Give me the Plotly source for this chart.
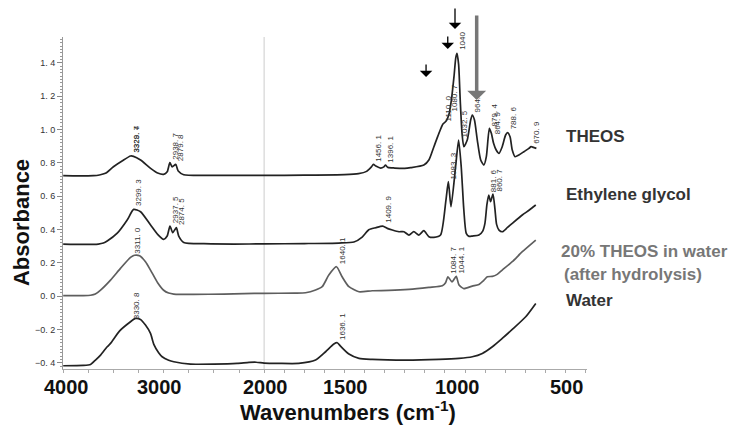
import numpy as np
import plotly.graph_objects as go

# ---------------- data (wavenumber cm-1, absorbance) ----------------
theos_wn = [4000, 3850, 3700, 3640, 3580, 3500, 3410, 3330, 3300, 3230, 3130, 3060, 3000, 2965,
            2938, 2915, 2880, 2855, 2800, 2600, 2300, 2000, 1800, 1600, 1530, 1490, 1466, 1456,
            1444, 1420, 1404, 1396, 1384, 1350, 1300, 1271, 1205, 1180, 1155, 1130, 1110, 1095,
            1081, 1068, 1055, 1046, 1040, 1032, 1024, 1015, 1006, 989, 972, 964, 953, 939, 922,
            906, 894, 879, 869, 858, 845, 831, 815, 798, 788, 776, 765, 751, 732, 707, 682, 671,
            660, 645]
theos_ab = [0.722, 0.721, 0.722, 0.726, 0.736, 0.776, 0.812, 0.840, 0.838, 0.816, 0.766, 0.738,
            0.730, 0.745, 0.800, 0.775, 0.790, 0.750, 0.728, 0.724, 0.724, 0.724, 0.725, 0.728,
            0.734, 0.748, 0.775, 0.790, 0.780, 0.768, 0.775, 0.785, 0.772, 0.768, 0.766, 0.770,
            0.786, 0.816, 0.896, 0.976, 1.032, 1.048, 1.086, 1.176, 1.316, 1.430, 1.456, 1.390,
            1.176, 0.976, 0.896, 0.936, 1.056, 1.086, 1.056, 0.936, 0.816, 0.786, 0.836, 1.006,
            0.976, 0.916, 0.876, 0.856, 0.896, 0.966, 0.980, 0.956, 0.876, 0.836, 0.846, 0.866,
            0.886, 0.896, 0.892, 0.886]

eg_wn = [4000, 3800, 3650, 3600, 3562, 3462, 3363, 3299, 3230, 3130, 3060, 3000, 2965, 2937,
         2910, 2874, 2850, 2800, 2600, 2300, 2000, 1800, 1628, 1553, 1512, 1479, 1445, 1410,
         1387, 1362, 1329, 1304, 1279, 1255, 1230, 1205, 1180, 1155, 1122, 1095, 1083, 1070,
         1047, 1032, 1019, 1006, 994, 980, 964, 931, 912, 901, 891, 882, 873, 861, 851, 843,
         831, 814, 790, 765, 715, 680, 648]
eg_ab = [0.312, 0.310, 0.312, 0.318, 0.330, 0.377, 0.456, 0.520, 0.506, 0.426, 0.370, 0.340,
         0.360, 0.420, 0.380, 0.410, 0.360, 0.322, 0.314, 0.312, 0.313, 0.315, 0.318, 0.324,
         0.354, 0.398, 0.410, 0.420, 0.406, 0.396, 0.386, 0.386, 0.366, 0.386, 0.366, 0.392,
         0.356, 0.352, 0.366, 0.576, 0.686, 0.536, 0.776, 0.936, 0.776, 0.516, 0.376, 0.358,
         0.360, 0.366, 0.390, 0.436, 0.550, 0.606, 0.566, 0.612, 0.520, 0.430, 0.396, 0.386,
         0.410, 0.436, 0.486, 0.516, 0.546]

hyd_wn = [4000, 3800, 3727, 3680, 3628, 3529, 3430, 3330, 3290, 3240, 3181, 3131, 3060, 3000,
          2950, 2900, 2700, 2400, 2200, 2000, 1850, 1794, 1744, 1711, 1678, 1640, 1612, 1578,
          1528, 1462, 1379, 1279, 1180, 1113, 1097, 1085, 1065, 1044, 1030, 1006, 964, 931,
          906, 889, 864, 840, 815, 765, 715, 648]
hyd_ab = [0.003, 0.003, 0.005, 0.012, 0.036, 0.096, 0.166, 0.232, 0.245, 0.242, 0.206, 0.156,
          0.080, 0.035, 0.018, 0.012, 0.010, 0.012, 0.015, 0.016, 0.018, 0.020, 0.036, 0.056,
          0.126, 0.176, 0.116, 0.056, 0.026, 0.032, 0.034, 0.040, 0.052, 0.062, 0.080, 0.116,
          0.085, 0.118, 0.066, 0.045, 0.060, 0.070, 0.095, 0.116, 0.118, 0.130, 0.156, 0.206,
          0.266, 0.336]

water_wn = [4000, 3800, 3728, 3679, 3628, 3562, 3529, 3440, 3330, 3280, 3231, 3181, 3131, 3098,
            3050, 3015, 2950, 2899, 2733, 2500, 2269, 2150, 2080, 2000, 1927, 1828, 1744, 1694,
            1653, 1636, 1620, 1578, 1528, 1462, 1296, 1130, 1030, 964, 914, 864, 815, 765, 698,
            648]
water_ab = [-0.418, -0.416, -0.410, -0.384, -0.354, -0.304, -0.284, -0.210, -0.154, -0.134,
            -0.140, -0.174, -0.224, -0.290, -0.340, -0.364, -0.385, -0.394, -0.408, -0.408,
            -0.404, -0.398, -0.397, -0.402, -0.404, -0.404, -0.384, -0.334, -0.288, -0.280,
            -0.300, -0.348, -0.374, -0.380, -0.384, -0.380, -0.374, -0.364, -0.344, -0.304,
            -0.254, -0.200, -0.124, -0.044]

series_names = ["THEOS", "Ethylene glycol", "20% THEOS in water (after hydrolysis)", "Water"]

peak_labels = {
    "THEOS": ["3328. 7", "3329. 4", "2938. 7", "2879. 8", "1456. 1", "1396. 1", "1110. 0",
              "1080. 7", "1040", "964. 5", "879. 4", "864. 9", "788. 6", "670. 9"],
    "Ethylene glycol": ["3299. 3", "2937. 5", "2874. 5", "1409. 9", "1083. 3", "1032. 5",
                        "881. 6", "860. 7"],
    "20% THEOS in water (after hydrolysis)": ["3311. 0", "1640. 1", "1084. 7", "1044. 1"],
    "Water": ["3330. 8", "1636. 1"],
}

y_ticks = [-0.4, -0.2, 0.0, 0.2, 0.4, 0.6, 0.8, 1.0, 1.2, 1.4]
y_ticktext = ["\u22120. 4", "\u22120. 2", "0. 0", "0. 2", "0. 4", "0. 6", "0. 8", "1. 0", "1. 2", "1. 4"]
x_labels = ["4000", "3000", "2000", "1500", "1000", "500"]


# ---------------- axis transform (scale doubles below 2000 cm-1) ----------------
def T(wn):
    wn = np.asarray(wn, dtype=float)
    return np.where(wn >= 2000, 4000 - wn, 2000 + 2 * (2000 - wn))


data = {
    "THEOS": (theos_wn, theos_ab, "#222222"),
    "Ethylene glycol": (eg_wn, eg_ab, "#222222"),
    "20% THEOS in water (after hydrolysis)": (hyd_wn, hyd_ab, "#5e5e5e"),
    "Water": (water_wn, water_ab, "#222222"),
}

fig = go.Figure()
for name in series_names:
    wn, ab, col = data[name]
    fig.add_trace(go.Scatter(x=T(wn), y=ab, mode="lines", name=name,
                             line=dict(color=col, width=1.7, shape="spline", smoothing=0.6),
                             showlegend=False, hoverinfo="skip"))

FONT = "Liberation Sans, Arial, sans-serif"
ann = []

# peak labels (rotated)
for name in series_names:
    wn, ab, col = data[name]
    xp = np.array(wn[::-1], dtype=float)
    fp = np.array(ab[::-1], dtype=float)
    for lab in peak_labels[name]:
        v = float(lab.replace(" ", ""))
        yv = float(np.interp(v, xp, fp))
        ann.append(dict(x=float(T(v)), y=yv, xref="x", yref="y", text=lab, showarrow=False,
                        textangle=-90, xanchor="left", yanchor="bottom", xshift=-1, yshift=1,
                        font=dict(family=FONT, size=8, color="#333333")))

# big tick labels
x_label_at = [3967, 3045, 1995, 1597, 1037, 497]
for lab, pos in zip(x_labels, x_label_at):
    ann.append(dict(x=float(T(pos)), y=-0.054, xref="x", yref="paper", text=lab, showarrow=False,
                    xanchor="center", yanchor="middle",
                    font=dict(family=FONT, size=20, color="#111111", weight="bold")))

# axis titles
ann.append(dict(x=0.543, y=-0.127, xref="paper", yref="paper",
                text="Wavenumbers (cm<sup>-1</sup>)", showarrow=False, xanchor="center", yanchor="middle",
                font=dict(family=FONT, size=22, color="#111111", weight="bold")))
ann.append(dict(x=-0.078, y=0.44, xref="paper", yref="paper", text="Absorbance", showarrow=False,
                textangle=-90, xanchor="center", yanchor="middle",
                font=dict(family=FONT, size=22, color="#111111", weight="bold")))

# series names on the right
right = [("THEOS", 0.956, 0.700, "#333333"),
         ("Ethylene glycol", 0.956, 0.527, "#333333"),
         ("20% THEOS in water", 0.947, 0.3545, "#777777"),
         ("(after hydrolysis)", 0.952, 0.286, "#777777"),
         ("Water", 0.956, 0.206, "#333333")]
for txt, xx, yy, col in right:
    ann.append(dict(x=xx, y=yy, xref="paper", yref="paper", text=txt, showarrow=False,
                    xanchor="left", yanchor="middle",
                    font=dict(family=FONT, size=17, color=col, weight="bold")))

# arrows
for wpos, ytip, ay in [(1194, 0.8795, -14), (1086, 0.9639, -14), (1050, 1.024, -22)]:
    ann.append(dict(x=float(T(wpos)), y=ytip, xref="x", yref="paper", text="", showarrow=True,
                    ax=0, ay=ay, arrowhead=1, arrowsize=1.6, arrowwidth=1.3, arrowcolor="#000000"))
ann.append(dict(x=float(T(942)), y=0.810, xref="x", yref="paper", text="", showarrow=True,
                ax=0, ay=-86, arrowhead=1, arrowsize=0.9, arrowwidth=3.5, arrowcolor="#777777"))

# x ticks: every 250 above 2000, every 100 below
x_tick_wn = list(range(4000, 2000, -250)) + list(range(2000, 399, -100))

fig.update_layout(
    width=732, height=428,
    margin=dict(l=63, r=145, t=37, b=59),
    paper_bgcolor="white", plot_bgcolor="white",
    annotations=ann,
    shapes=[dict(type="line", xref="x", yref="paper", x0=float(T(2000)), x1=float(T(2000)),
                 y0=0, y1=1, line=dict(color="#cccccc", width=1), layer="below")],
    xaxis=dict(range=[-2, 5214], showgrid=False, zeroline=False, showline=True,
               linecolor="#aaaaaa", linewidth=1, ticks="outside", ticklen=3, tickcolor="#aaaaaa",
               tickvals=[float(t) for t in T(x_tick_wn)], showticklabels=False),
    yaxis=dict(range=[-0.4375, 1.554], showgrid=False, zeroline=False, showline=True,
               linecolor="#999999", linewidth=1, ticks="outside", ticklen=5, tickcolor="#888888",
               tickvals=y_ticks, ticktext=y_ticktext,
               tickfont=dict(family=FONT, size=9, color="#333333"),
               minor=dict(dtick=0.02, ticks="outside", ticklen=2, tickcolor="#999999", showgrid=False)),
)

fig.write_html("out.html", config={"displayModeBar": False},
               post_script="document.body.style.margin='0';document.body.style.overflow='hidden';")
